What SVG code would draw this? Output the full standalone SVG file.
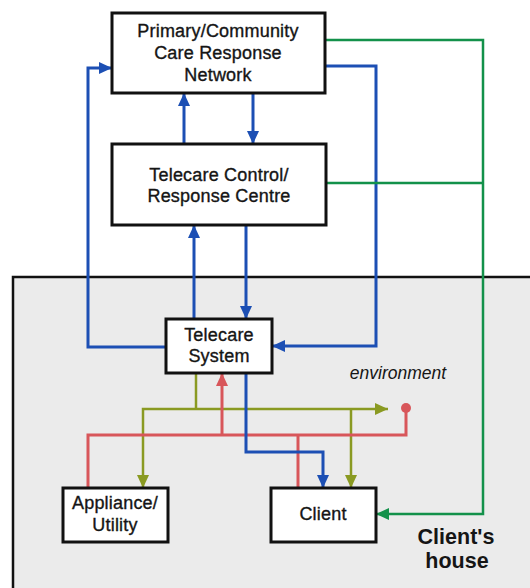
<svg xmlns="http://www.w3.org/2000/svg" width="530" height="588" viewBox="0 0 530 588">
  <style>
    .node rect { fill: #ffffff; stroke: #111111; stroke-width: 3; }
    .label { font-family: "Liberation Sans", Arial, sans-serif; font-size: 18px; fill: #151515; stroke: #151515; stroke-width: 0.35; text-anchor: middle; letter-spacing: 0.2px; }
    .wire { fill: none; stroke-width: 3; stroke-linejoin: miter; }
    .blue { stroke: #1c4fb4; }
    .green { stroke: #13914a; stroke-width: 2.5; }
    .olive { stroke: #8a9a22; stroke-width: 2.5; }
    .red { stroke: #d8565a; }
  </style>
  <defs>
    <marker id="arrow-blue" markerUnits="userSpaceOnUse" markerWidth="14" markerHeight="12" refX="13" refY="6" orient="auto">
      <path d="M0,0 L13,6 L0,12 z" fill="#1c4fb4"/>
    </marker>
    <marker id="arrow-green" markerUnits="userSpaceOnUse" markerWidth="14" markerHeight="12" refX="13" refY="6" orient="auto">
      <path d="M0,0 L13,6 L0,12 z" fill="#13914a"/>
    </marker>
    <marker id="arrow-olive" markerUnits="userSpaceOnUse" markerWidth="14" markerHeight="12" refX="13" refY="6" orient="auto">
      <path d="M0,0 L13,6 L0,12 z" fill="#8a9a22"/>
    </marker>
    <marker id="arrow-red" markerUnits="userSpaceOnUse" markerWidth="14" markerHeight="12" refX="13" refY="6" orient="auto">
      <path d="M0,0 L13,6 L0,12 z" fill="#d8565a"/>
    </marker>
  </defs>

  <rect width="530" height="588" fill="#ffffff"/>

  <!-- the client's house -->
  <g id="house">
    <rect x="13" y="277" width="530" height="330" fill="#ebebeb" stroke="#111111" stroke-width="2.5"/>
    <text x="456" y="544" font-family="Liberation Sans, Arial, sans-serif" font-size="21.5" font-weight="bold" fill="#151515" text-anchor="middle">Client's</text>
    <text x="457" y="568" font-family="Liberation Sans, Arial, sans-serif" font-size="21.5" font-weight="bold" fill="#151515" text-anchor="middle">house</text>
  </g>

  <g id="connectors">
    <!-- response network / control centre / telecare system links -->
    <path class="wire blue" d="M166,347 H88 V68 H112" marker-end="url(#arrow-blue)"/>
    <path class="wire blue" d="M194,319 V225" marker-end="url(#arrow-blue)"/>
    <path class="wire blue" d="M246,225 V319" marker-end="url(#arrow-blue)"/>
    <path class="wire blue" d="M184,144 V93" marker-end="url(#arrow-blue)"/>
    <path class="wire blue" d="M253,93 V144" marker-end="url(#arrow-blue)"/>
    <path class="wire blue" d="M325,66 H376 V346 H272" marker-end="url(#arrow-blue)"/>

    <!-- direct response to the client -->
    <path class="wire green" d="M325,40 H483 V514 H376" marker-end="url(#arrow-green)"/>
    <path class="wire green" d="M326,183 H483"/>

    <!-- telecare system outputs -->
    <path class="wire olive" d="M196,373 V409"/>
    <path class="wire olive" d="M196,409 H143 V488" marker-end="url(#arrow-olive)"/>
    <path class="wire olive" d="M196,409 H388" marker-end="url(#arrow-olive)"/>
    <path class="wire olive" d="M351,409 V488" marker-end="url(#arrow-olive)"/>

    <!-- sensor inputs back to the telecare system -->
    <path class="wire red" d="M406,408 V435 H88 V488"/>
    <path class="wire red" d="M298,435 V488"/>
    <path class="wire red" d="M222,435 V373" marker-end="url(#arrow-red)"/>
    <circle cx="406" cy="408" r="5" fill="#d8565a"/>

    <path class="wire blue" d="M246,373 V452 H323 V488" marker-end="url(#arrow-blue)"/>
  </g>

  <g id="primary-care-network" class="node">
    <rect x="112" y="13" width="213" height="80"/>
    <text class="label" x="218" y="37">Primary/Community</text>
    <text class="label" x="218" y="59">Care Response</text>
    <text class="label" x="218" y="81">Network</text>
  </g>

  <g id="control-centre" class="node">
    <rect x="112" y="144" width="214" height="81"/>
    <text class="label" x="219" y="181">Telecare Control/</text>
    <text class="label" x="219" y="202">Response Centre</text>
  </g>

  <g id="telecare-system" class="node">
    <rect x="166" y="319" width="106" height="54"/>
    <text class="label" x="219" y="341">Telecare</text>
    <text class="label" x="219" y="362">System</text>
  </g>

  <g id="appliance" class="node">
    <rect x="63" y="488" width="105" height="54"/>
    <text class="label" x="115" y="509">Appliance/</text>
    <text class="label" x="115" y="531">Utility</text>
  </g>

  <g id="client" class="node">
    <rect x="271" y="488" width="105" height="54"/>
    <text class="label" x="323" y="520">Client</text>
  </g>

  <g id="environment">
    <text x="398" y="379" font-family="Liberation Sans, Arial, sans-serif" font-size="17.5" font-style="italic" fill="#151515" text-anchor="middle">environment</text>
  </g>
</svg>
